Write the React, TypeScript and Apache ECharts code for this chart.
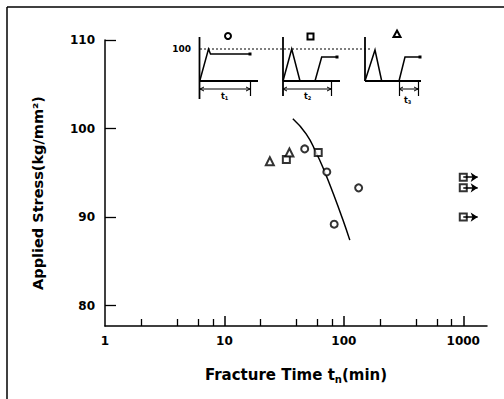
import React, { useEffect, useRef } from "react";
import * as echarts from "echarts";

// ---- data ----
const circleTime = [47, 72, 83, 133];
const circleStress = [97.7, 95.1, 89.2, 93.3];
const squareTime = [33, 61];
const squareStress = [96.5, 97.3];
const triangleTime = [24, 35];
const triangleStress = [96.3, 97.3];
const runoutTime = [1000, 1000, 1000];
const runoutStress = [94.5, 93.3, 90.0];
const runoutArrowEnd = 1320;
const fitTime = [37.4, 48.3, 58.3, 69.2, 81.8, 97.5, 112.2];
const fitStress = [101.1, 99.4, 97.35, 95.1, 92.6, 89.8, 87.4];
const yTicks = [80, 90, 100, 110];
const xMajorTicks = [10, 100, 1000];
const xLabels = [1, 10, 100, 1000];
const xMinorTicks = [2, 4, 6, 8, 20, 40, 60, 80, 200, 400, 600, 800];

const FONT = '"DejaVu Sans", "Liberation Sans", Arial, sans-serif';

const zip = (a: number[], b: number[]) => a.map((v, i) => [v, b[i]]);

const L = (x1: number, y1: number, x2: number, y2: number, w = 1.6, dash?: number[]) => ({
  type: "line",
  silent: true,
  shape: { x1, y1, x2, y2 },
  style: { stroke: "#000", lineWidth: w, lineDash: dash },
});
const P = (points: number[][], w = 1.5) => ({
  type: "polyline",
  silent: true,
  shape: { points },
  style: { stroke: "#000", lineWidth: w, fill: null },
});
const dimArrows = (a: number, b: number, y: number) => [
  L(a, y, b, y, 1),
  P([[a + 4, y - 2], [a, y], [a + 4, y + 2]], 1),
  P([[b - 4, y - 2], [b, y], [b - 4, y + 2]], 1),
];
const T = (text: string, x: number, y: number, size = 9, align = "center") => ({
  type: "text",
  silent: true,
  style: {
    text,
    x,
    y,
    fill: "#000",
    fontSize: size,
    fontWeight: "bold",
    fontFamily: FONT,
    align,
    verticalAlign: "middle",
  },
});
const endMark = (x: number, y: number) => ({
  type: "rect",
  silent: true,
  shape: { x: x - 1.5, y: y - 1.5, width: 3, height: 3 },
  style: { fill: "#000" },
});

const insetGraphics: any[] = [
  // frame
  L(7, 7, 7, 399, 1.5),
  L(7, 7, 504, 7, 1.5),
  // dotted 100 level
  L(200, 49, 372, 49, 1.2, [2, 2]),
  T("100", 191, 49, 9, "right"),
  // diagram 1
  L(199.5, 37, 199.5, 99, 1.8),
  L(199.5, 81, 258, 81, 1.8),
  P([[200, 80], [208.5, 49], [210.5, 54], [249, 54]]),
  endMark(250, 54),
  ...dimArrows(200, 250, 89),
  L(250.5, 82, 250.5, 96, 1.2),
  T("t", 223, 96, 8),
  T("1", 226.5, 98, 5),
  { type: "circle", silent: true, shape: { cx: 228, cy: 36, r: 3 }, style: { fill: "#fff", stroke: "#000", lineWidth: 2 } },
  // diagram 2
  L(283, 37, 283, 96, 1.8),
  L(283, 81, 340, 81, 1.8),
  P([[283, 81], [291.7, 49], [300, 81]]),
  P([[315, 81], [321.7, 57], [336, 57]]),
  endMark(337, 57),
  ...dimArrows(283, 331, 89),
  L(331.5, 82, 331.5, 96, 1.2),
  T("t", 306, 96, 8),
  T("2", 309.5, 98, 5),
  { type: "rect", silent: true, shape: { x: 307.5, y: 33.5, width: 6, height: 6 }, style: { fill: "#fff", stroke: "#000", lineWidth: 2 } },
  // diagram 3
  L(365, 37, 365, 81, 1.8),
  L(365, 81, 421, 81, 1.8),
  P([[365, 81], [375, 50], [381.7, 81]]),
  P([[399, 81], [405, 57], [419, 57]]),
  endMark(420, 57),
  ...dimArrows(399, 418, 89),
  L(399.5, 82, 399.5, 96, 1.2),
  L(418.5, 82, 418.5, 96, 1.2),
  T("t", 406, 100, 8),
  T("3", 409.5, 102, 5),
  { type: "polygon", silent: true, shape: { points: [[397, 30.5], [400.5, 37], [393.5, 37]] }, style: { fill: "#fff", stroke: "#000", lineWidth: 2 } },
];

const markerStyle = { color: "#fff", borderColor: "#000", borderWidth: 2 };

export default function App() {
  const ref = useRef<HTMLDivElement>(null);
  useEffect(() => {
    if (!ref.current) return;
    const chart = echarts.init(ref.current, null, { renderer: "svg" });
    const axisLabelStyle = { color: "#000", fontSize: 12, fontWeight: "bold", fontFamily: FONT };
    chart.setOption({
      animation: false,
      backgroundColor: "#fff",
      grid: { left: 105, top: 40, right: 17, bottom: 73, containLabel: false },
      xAxis: [
        {
          type: "log",
          logBase: 10,
          min: 1,
          max: 1580,
          position: "bottom",
          name: "Fracture Time t{sub|n}(min)",
          nameLocation: "middle",
          nameGap: 39,
          nameTextStyle: {
            color: "#000",
            fontSize: 15,
            fontWeight: "bold",
            fontFamily: FONT,
            rich: { sub: { fontSize: 10, fontWeight: "bold", fontFamily: FONT, verticalAlign: "bottom", padding: [9, 0, 0, 0] } },
          },
          axisLine: { show: true, lineStyle: { color: "#000", width: 1.5 } },
          axisTick: { show: true, inside: true, length: 10, customValues: xMajorTicks, lineStyle: { color: "#000", width: 1.5 } },
          axisLabel: { ...axisLabelStyle, margin: 9, customValues: xLabels, formatter: (v: number) => String(v) },
          splitLine: { show: false },
          minorTick: { show: false },
        },
        {
          type: "log",
          logBase: 10,
          min: 1,
          max: 1580,
          position: "bottom",
          axisLine: { show: false },
          axisTick: { show: true, inside: true, length: 7, customValues: xMinorTicks, lineStyle: { color: "#000", width: 1.3 } },
          axisLabel: { show: false },
          splitLine: { show: false },
        },
      ],
      yAxis: {
        type: "value",
        min: 77.7,
        max: 110,
        name: "Applied Stress(kg/mm²)",
        nameLocation: "middle",
        nameGap: 60,
        nameTextStyle: { color: "#000", fontSize: 14.5, fontWeight: "bold", fontFamily: FONT, padding: [0, 20, 0, 0] },
        axisLine: { show: true, lineStyle: { color: "#000", width: 1.5 } },
        axisTick: { show: true, inside: true, length: 11, customValues: yTicks, lineStyle: { color: "#000", width: 1.3 } },
        axisLabel: { ...axisLabelStyle, margin: 10, customValues: yTicks },
        splitLine: { show: false },
      },
      series: [
        {
          type: "line",
          data: zip(fitTime, fitStress),
          smooth: true,
          showSymbol: false,
          lineStyle: { color: "#000", width: 1.5 },
          silent: true,
          z: 1,
        },
        {
          type: "scatter",
          data: zip(circleTime, circleStress),
          symbol: "circle",
          symbolSize: 7,
          itemStyle: markerStyle,
          z: 3,
        },
        {
          type: "scatter",
          data: zip(squareTime, squareStress),
          symbol: "rect",
          symbolSize: 7,
          itemStyle: markerStyle,
          z: 3,
        },
        {
          type: "scatter",
          data: zip(triangleTime, triangleStress),
          symbol: "triangle",
          symbolSize: 8,
          itemStyle: markerStyle,
          z: 3,
        },
        {
          type: "scatter",
          data: zip(runoutTime, runoutStress),
          symbol: "rect",
          symbolSize: 7,
          itemStyle: markerStyle,
          z: 3,
          markLine: {
            silent: true,
            symbol: ["none", "arrow"],
            symbolSize: 7,
            label: { show: false },
            lineStyle: { color: "#000", width: 1.5, type: "solid" },
            data: runoutTime.map((t, i) => [
              { coord: [t, runoutStress[i]] },
              { coord: [runoutArrowEnd, runoutStress[i]] },
            ]),
          },
        },
      ],
      graphic: insetGraphics,
    });
    return () => chart.dispose();
  }, []);
  return <div ref={ref} style={{ width: 504, height: 399, position: "absolute", left: 0, top: 0 }} />;
}
